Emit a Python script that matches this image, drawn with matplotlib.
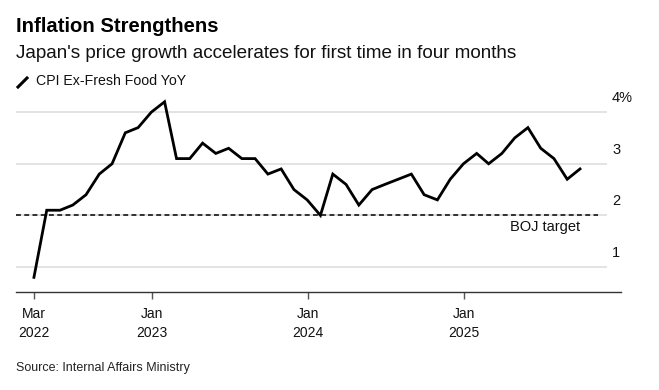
import numpy as np
import pandas as pd
import matplotlib
matplotlib.use("Agg")
import matplotlib.pyplot as plt
import matplotlib.dates as mdates
from matplotlib.lines import Line2D
from matplotlib.transforms import blended_transform_factory

plt.rcParams['font.family'] = ['Liberation Sans', 'DejaVu Sans']

# monthly CPI ex-fresh food YoY, Mar 2022 .. Sep 2025
months = pd.date_range("2022-03-31", "2025-09-30", freq="ME")
cpi = [0.8, 2.1, 2.1, 2.2, 2.4, 2.8, 3.0, 3.6, 3.7, 4.0,
       4.2, 3.1, 3.1, 3.4, 3.2, 3.3, 3.1, 3.1, 2.8, 2.9, 2.5, 2.3,
       2.0, 2.8, 2.6, 2.2, 2.5, 2.6, 2.7, 2.8, 2.4, 2.3, 2.7, 3.0,
       3.2, 3.0, 3.2, 3.5, 3.7, 3.3, 3.1, 2.7, 2.9]
boj_target = 2.0
y_ticks = [1, 2, 3, 4]
y_labels = ["1", "2", "3", "4%"]
x_ticks = pd.to_datetime(["2022-03-31", "2023-01-01", "2024-01-01", "2025-01-01"])
x_labels = ["Mar\n2022", "Jan\n2023", "Jan\n2024", "Jan\n2025"]

W, H = 659, 390
fig = plt.figure(figsize=(W / 100, H / 100), dpi=100)
ax = fig.add_axes([16 / W, 1 - 292 / H, (621 - 16) / W, 200 / H])

ax.set_xlim(pd.Timestamp("2022-02-17"), pd.Timestamp("2026-01-04"))
ax.set_ylim(0.516, 4.39)

# gridlines
for v in y_ticks:
    ax.axhline(v, xmin=0, xmax=0.975, color="#e3e3e3", lw=1.4, zorder=1)
ax.axhline(boj_target, xmin=0, xmax=0.962, color="black", lw=1.1,
           ls=(0, (3.2, 2.2)), zorder=2)

ax.plot(months, cpi, color="black", lw=2.0, solid_joinstyle="miter", zorder=3)

# y labels above gridlines on the right
tr = blended_transform_factory(fig.transFigure, ax.transData)
for v, lab in zip(y_ticks, y_labels):
    ax.text(612 / W, v + 0.14, lab, transform=tr, fontsize=10.5,
            ha="left", va="bottom", color="#111")

ax.text(580 / W, boj_target - 0.22, "BOJ target", transform=tr,
        fontsize=10.5, ha="right", va="center", color="#111")

for s in ["top", "right", "left"]:
    ax.spines[s].set_visible(False)
ax.spines["bottom"].set_color("#333")
ax.spines["bottom"].set_linewidth(1.0)
ax.set_yticks([])
ax.set_xticks(x_ticks)
ax.set_xticklabels(x_labels, fontsize=10, linespacing=1.45, color="#111")
ax.tick_params(axis="x", length=5, width=1, color="#555", pad=6)

fig.text(16 / W, 1 - 27 / H, "Inflation Strengthens", fontsize=14.6,
         fontweight="bold", ha="left", va="center")
fig.text(16 / W, 1 - 54 / H, "Japan's price growth accelerates for first time in four months",
         fontsize=13.6, ha="left", va="center", color="#111")
fig.add_artist(Line2D([18 / W, 27 / W], [1 - 87 / H, 1 - 78 / H], color="black",
                      lw=2.2, transform=fig.transFigure))
fig.text(36 / W, 1 - 81 / H, "CPI Ex-Fresh Food YoY", fontsize=10.2,
         ha="left", va="center", color="#111")
fig.text(16 / W, 1 - 368 / H, "Source: Internal Affairs Ministry", fontsize=9,
         ha="left", va="center", color="#222")

fig.savefig("out.png", dpi=100)
